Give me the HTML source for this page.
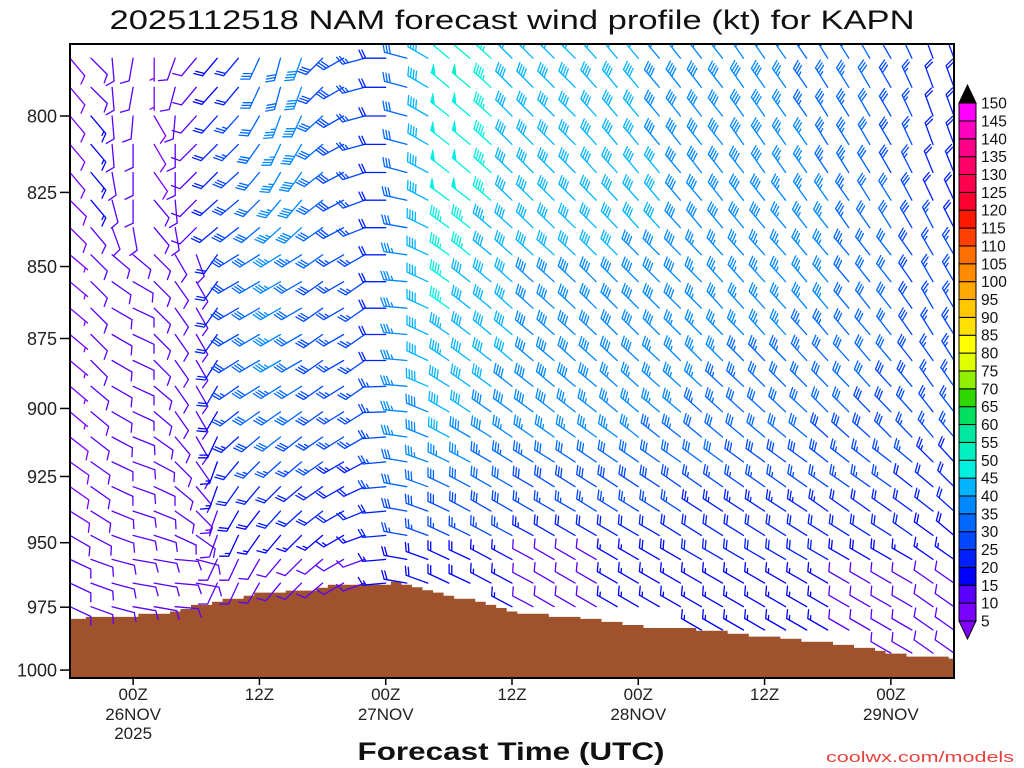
<!DOCTYPE html>
<html><head><meta charset="utf-8"><title>NAM wind profile KAPN</title>
<style>html,body{margin:0;padding:0;background:#fff;}svg{display:block;}</style></head>
<body>
<svg id="chart" xmlns="http://www.w3.org/2000/svg" width="1024" height="768" viewBox="0 0 1024 768" font-family="'Liberation Sans', 'DejaVu Sans', sans-serif">
<defs><clipPath id="plotclip"><rect x="70" y="44" width="884" height="634"/></clipPath></defs>
<rect x="0" y="0" width="1024" height="768" fill="#fff"/>
<text x="512" y="29" font-size="27" text-anchor="middle" textLength="805" lengthAdjust="spacingAndGlyphs" fill="#111">2025112518 NAM forecast wind profile (kt) for KAPN</text>
<g id="terrain" clip-path="url(#plotclip)"></g>
<g id="barbs" clip-path="url(#plotclip)"></g>
<rect x="70" y="44" width="884" height="634" fill="none" stroke="#000" stroke-width="2"/>
<g id="yaxis"></g><g id="xaxis"></g><g id="colorbar"></g>
<text x="511" y="760" font-size="25" font-weight="bold" text-anchor="middle" textLength="307" lengthAdjust="spacingAndGlyphs" fill="#111">Forecast Time (UTC)</text>
<text x="826" y="762" font-size="15" textLength="188" lengthAdjust="spacingAndGlyphs" fill="#e8413c">coolwx.com/models</text>
</svg>
<script>
// ---- data ----
const levels = [781.6,790.8,800,809.2,818.4,827.6,836.8,846,855.2,864.4,873.6,882.8,892,901.2,910.4,919.6,928.8,938,947.2,956.4,965.6,974.8,984,993.2];
const barbHours = [0,2,4,6,8,10,12,14,16,18,20,22,24,26,28,30,32,34,36,38,40,42,44,46,48,50,52,54,56,58,60,62,64,66,68,70,72,74,76,78,80,82,84];
const sfcPressure = [979.6,979.6,978.8,978.8,978.8,978.8,978.8,977.6,977.6,977.6,976.7,975.7,974.1,974.1,972.9,971.7,971.7,970.5,969.3,969.3,969.3,968.5,968.5,968.5,967.4,966.2,966.2,966.2,966.2,966.2,966.2,965.0,966.2,967.2,968.4,969.3,970.5,971.7,971.7,972.9,974.1,975.3,976.7,977.6,977.6,977.6,978.8,978.8,978.8,979.6,979.6,980.8,980.8,982.0,982.0,983.2,983.2,983.2,983.2,983.2,984.3,984.3,984.3,985.5,985.5,986.6,986.6,986.6,987.5,987.5,988.7,988.7,988.7,989.9,989.9,991.1,991.1,992.3,993.4,993.4,994.6,994.6,994.6,994.6,995.4];
const windDir = [
[140,135,175,190,180,200,220,220,220,205,195,200,225,240,255,270,285,300,310,310,312,315,315,315,315,318,320,320,320,322,322,322,325,325,325,325,328,328,330,330,335,340,340],
[140,135,175,190,180,195,220,222,220,205,195,200,225,240,255,270,285,300,310,310,312,315,315,315,315,318,320,320,320,322,322,322,325,325,325,325,328,328,330,330,335,340,340],
[140,140,175,185,150,185,222,222,222,210,200,205,228,240,255,270,285,300,308,310,312,315,315,315,315,318,320,320,320,322,322,322,325,325,325,325,328,328,330,330,335,340,340],
[140,140,175,180,150,180,225,225,225,215,205,210,230,242,255,270,285,300,308,310,312,315,315,315,315,318,320,320,320,322,322,322,325,325,325,325,328,328,330,330,335,340,340],
[140,140,170,180,145,180,225,225,228,220,210,215,232,242,252,270,285,298,308,310,312,314,315,315,315,318,318,320,320,320,322,322,322,325,325,325,326,328,328,330,333,338,338],
[135,140,165,180,140,175,225,228,230,225,220,220,232,242,250,270,282,298,306,308,310,314,314,315,315,316,318,318,320,320,320,322,322,322,322,325,325,325,328,328,332,335,335],
[135,140,160,170,140,170,225,230,232,230,228,228,235,242,248,270,280,296,306,308,310,312,314,314,314,315,316,318,318,318,320,320,320,320,320,322,322,325,325,328,330,333,333],
[130,135,130,130,135,150,160,215,238,238,238,238,235,240,240,270,278,295,305,308,310,312,312,312,313,315,315,315,315,316,316,318,318,318,318,320,320,320,322,322,325,330,330],
[130,135,125,120,135,145,150,215,240,240,240,240,235,240,235,270,275,295,305,308,310,312,312,312,313,315,315,315,315,315,315,318,318,318,318,320,320,320,322,322,325,330,330],
[130,135,120,115,135,145,150,215,240,240,240,240,235,240,235,270,275,295,305,308,310,312,312,312,313,315,315,315,315,315,315,318,318,318,318,320,320,320,322,322,325,330,330],
[130,135,120,115,135,145,150,215,240,240,240,240,235,240,235,270,275,295,305,308,310,310,310,312,312,313,315,315,315,315,315,316,316,318,318,318,320,320,320,322,325,328,328],
[130,135,120,115,135,145,150,212,238,240,240,240,235,240,235,270,275,295,304,306,308,310,310,310,312,312,313,313,313,315,315,315,315,316,316,318,318,318,320,320,322,325,328],
[130,130,120,115,130,145,150,210,235,238,238,238,235,238,235,268,275,293,302,305,306,308,308,310,310,310,312,312,312,312,313,313,313,315,315,315,316,316,318,318,320,325,325],
[130,130,120,115,130,145,150,210,232,235,235,235,235,238,238,268,275,292,300,303,305,306,306,308,308,308,310,310,310,310,312,312,312,312,313,313,315,315,316,316,318,322,322],
[128,128,118,112,125,140,150,205,228,230,232,232,235,238,240,266,278,292,298,300,302,304,304,305,305,306,306,308,308,308,310,310,310,310,310,310,312,312,312,315,316,320,320],
[125,125,115,110,118,135,145,200,220,225,228,230,235,240,242,265,280,290,296,298,300,302,302,302,303,304,304,305,305,305,306,306,306,306,306,306,308,308,308,308,310,315,318],
[125,125,115,110,115,130,140,200,215,220,225,230,235,240,245,265,280,290,295,298,300,300,300,302,302,302,303,303,303,305,305,305,305,305,305,305,305,305,305,305,308,310,315],
[122,122,112,108,112,125,135,200,210,218,222,228,232,240,248,265,280,290,295,298,300,300,300,300,300,302,302,302,302,303,303,303,303,303,303,303,305,305,305,305,306,308,312],
[120,118,110,105,108,115,125,200,205,215,220,225,230,240,250,265,280,290,295,296,298,298,298,300,300,300,300,300,300,302,302,302,302,302,302,302,302,302,302,302,305,306,310],
[115,110,105,100,100,95,105,205,205,210,220,225,230,240,250,265,280,290,295,295,298,298,298,300,300,300,300,300,300,300,300,300,300,300,300,300,300,300,300,300,300,305,305],
[115,110,105,100,100,95,100,205,205,210,220,225,230,240,250,265,280,290,295,295,298,298,298,300,300,300,300,300,300,300,300,300,300,300,300,300,300,300,300,300,300,305,305],
[115,110,105,100,100,95,100,205,205,210,220,225,230,240,250,265,280,290,295,295,298,298,298,300,300,300,300,300,300,300,300,300,300,300,300,300,300,300,300,300,300,305,305],
[115,110,105,100,100,95,100,205,205,210,220,225,230,240,250,265,280,290,295,295,298,298,298,300,300,300,300,300,300,300,300,300,300,300,300,300,300,300,300,300,300,305,305],
[115,110,105,100,100,95,100,205,205,210,220,225,230,240,250,265,280,290,295,295,298,298,298,300,300,300,300,300,300,300,300,300,300,300,300,300,300,300,300,300,300,305,305]
];
const windSpd = [
[8,10,10,10,5,10,10,18,22,30,32,38,28,28,25,20,30,42,48,52,45,42,40,42,40,40,40,40,38,38,38,38,38,38,36,33,33,33,30,28,25,20,20],
[8,12,10,10,5,10,10,18,22,30,32,38,28,28,25,20,30,40,48,50,45,42,40,42,40,40,40,40,38,38,38,38,38,38,36,33,33,33,30,28,25,20,20],
[8,15,10,10,8,12,12,20,25,30,35,38,30,28,25,22,30,40,48,48,45,42,40,42,40,40,40,40,38,38,38,38,38,38,36,33,33,33,30,28,25,20,20],
[8,15,10,10,8,12,12,20,25,32,35,38,30,28,25,22,30,40,48,48,45,42,42,42,40,40,40,40,38,38,38,38,38,38,36,35,33,33,30,28,25,22,20],
[8,15,10,10,8,12,12,20,28,32,35,38,32,28,25,22,32,40,48,48,45,42,42,42,40,40,40,40,40,38,38,38,38,38,36,35,33,33,30,28,25,22,22],
[8,15,10,12,10,12,12,20,28,32,35,38,32,28,25,22,32,40,48,48,45,42,42,42,42,40,40,40,40,38,38,38,38,38,36,35,35,33,30,30,28,22,22],
[8,12,12,12,10,12,12,20,28,32,36,38,32,28,25,22,32,40,46,46,44,42,42,42,42,40,40,40,40,38,38,38,38,38,36,35,35,33,32,30,28,25,22],
[6,10,12,12,10,10,10,20,28,32,35,34,30,26,25,22,35,40,46,45,42,40,40,40,40,40,40,38,38,38,36,36,36,36,36,35,35,33,32,30,28,25,25],
[6,10,12,12,10,10,10,20,28,32,35,32,28,25,25,22,35,40,45,42,40,40,38,38,38,38,38,38,38,38,35,35,35,35,35,35,35,32,30,30,28,25,25],
[6,10,12,12,10,10,10,20,28,32,35,32,28,25,25,22,35,40,45,42,40,40,38,38,38,38,38,38,38,38,35,35,35,35,35,35,35,32,30,30,28,25,25],
[6,10,12,12,10,10,10,20,28,32,35,32,28,25,25,22,35,40,44,42,40,40,38,38,38,38,38,38,38,36,35,35,35,35,35,33,33,32,30,30,28,25,25],
[6,10,12,12,10,10,10,20,28,32,35,32,28,25,25,22,35,40,44,42,40,40,38,38,38,38,38,38,36,36,35,35,33,33,33,33,32,32,30,30,28,25,25],
[6,10,12,12,10,10,10,20,26,30,33,32,28,25,25,25,35,40,42,40,40,38,38,38,38,38,36,36,36,35,35,33,33,32,32,32,30,30,30,28,28,25,25],
[6,10,12,12,10,10,10,18,25,30,32,30,28,25,25,25,35,38,42,40,38,38,38,38,36,36,36,35,35,35,33,33,32,32,30,30,30,30,28,28,28,25,25],
[8,10,12,12,10,10,10,18,24,28,30,28,26,25,25,25,35,38,40,38,38,36,36,36,35,35,35,35,33,33,32,32,30,30,30,30,28,28,28,28,26,25,25],
[8,10,10,10,10,10,10,15,22,25,26,25,25,24,24,25,32,35,35,35,34,33,33,32,32,32,32,30,30,30,30,30,28,28,28,28,28,26,26,26,25,24,22],
[8,10,10,10,10,10,10,15,20,20,22,22,22,22,22,25,30,30,30,30,30,30,28,28,28,28,28,28,28,28,25,25,25,25,25,25,25,25,25,25,22,22,20],
[8,10,10,10,10,10,10,14,18,18,20,20,20,20,20,22,28,28,28,28,28,28,26,26,26,26,26,26,26,26,24,24,24,24,24,24,24,22,22,22,22,20,20],
[10,10,10,10,10,10,10,12,15,15,16,16,16,16,16,20,25,25,25,25,25,25,24,22,22,22,22,22,22,22,22,22,22,22,22,22,22,20,20,20,20,18,18],
[10,10,10,10,10,10,10,10,12,12,12,12,12,12,12,15,18,18,18,18,15,15,12,12,12,12,15,15,18,18,20,20,20,20,20,20,20,18,18,18,15,15,15],
[10,10,10,10,10,10,10,10,12,12,12,12,12,12,12,15,18,18,18,18,15,15,12,12,12,12,15,15,15,15,15,15,15,15,15,15,15,12,12,10,10,10,10],
[10,10,10,10,10,10,10,10,12,12,12,12,12,12,12,15,18,18,18,18,15,15,12,12,12,12,15,15,15,15,15,15,15,15,15,15,15,12,12,10,10,10,10],
[10,10,10,10,10,10,10,10,12,12,12,12,12,12,12,15,18,18,18,18,15,15,12,12,12,12,15,15,15,15,15,15,15,15,15,15,15,12,12,10,10,10,10],
[10,10,10,10,10,10,10,10,12,12,12,12,12,12,12,15,18,18,18,18,15,15,12,12,12,12,15,15,15,15,15,15,15,15,15,15,15,12,12,10,10,10,10]
];
const yTicks = [800,825,850,875,900,925,950,975,1000];
const xTickHours = [6,18,30,42,54,66,78];
const xTickLabels = ["00Z","12Z","00Z","12Z","00Z","12Z","00Z"];
const xDateLabels = ["26NOV","","27NOV","","28NOV","","29NOV"];
const cbValues = [5,10,15,20,25,30,35,40,45,50,55,60,65,70,75,80,85,90,95,100,105,110,115,120,125,130,135,140,145,150];
const cbColors = ["#7a00ff","#5a00ff","#0000ff","#0020ff","#0048ff","#0068ff","#0088ff","#00b4ff","#00f0e0","#00f0c0","#00e8a0","#00e060","#30d800","#90f000","#e0ff00","#ffff00","#ffe000","#ffc800","#ffa800","#ff8c00","#ff7000","#ff4000","#ff1800","#ff0030","#ff0050","#ff0068","#ff0088","#ff00c0","#ff00ff"];

// ---- axes ----
const NS = "http://www.w3.org/2000/svg";
function xScale(h){ return 70 + h * (884/84); }
function yScale(p){ return 116 + Math.log(p/800) * 2483; }
function mk(tag, attrs, parent){ const e=document.createElementNS(NS,tag); for(const k in attrs) e.setAttribute(k, attrs[k]); parent.appendChild(e); return e; }
function spdColor(s){ if(s<5) return "#8000ff"; let i=Math.floor((s-5)/5); if(i>28) return "#000"; return cbColors[i]; }

// terrain
const tg = document.getElementById("terrain");
let d = "M" + xScale(-0.5) + " 680";
for(let h=0; h<sfcPressure.length; h++){
  const y = yScale(sfcPressure[h]).toFixed(1);
  d += " L" + xScale(h-0.5).toFixed(1) + " " + y + " L" + xScale(h+0.5).toFixed(1) + " " + y;
}
d += " L" + xScale(84.5).toFixed(1) + " 680 Z";
const terr = mk("path", {d:d, fill:"#a0522d"}, tg);



// barbs
const bg = document.getElementById("barbs");
const L = 23, BL = 9, SP = 3, deg = Math.PI/180;
for(let r=0; r<levels.length; r++){
  for(let c=0; c<barbHours.length; c++){
    const h = barbHours[c];
    const p = levels[r];
    if(p >= sfcPressure[h]) continue;
    const x = xScale(h), y = yScale(p);
    const dir = windDir[r][c], spd = windSpd[r][c];
    const ux = Math.sin(dir*deg), uy = -Math.cos(dir*deg);
    const ex = x + L*ux, ey = y + L*uy;
    const a = Math.atan2(uy, ux) + 65*deg;
    const bx = Math.cos(a), by = Math.sin(a);
    let path = "M"+x.toFixed(1)+" "+y.toFixed(1)+" L"+ex.toFixed(1)+" "+ey.toFixed(1);
    let s = Math.round(spd/5)*5, pos = 0, fillPath = "";
    while(s >= 50){
      const px = ex - pos*ux, py = ey - pos*uy;
      const qx = ex - (pos+5)*ux, qy = ey - (pos+5)*uy;
      fillPath += "M"+px.toFixed(1)+" "+py.toFixed(1)+" L"+(px+BL*bx).toFixed(1)+" "+(py+BL*by).toFixed(1)+" L"+qx.toFixed(1)+" "+qy.toFixed(1)+" Z ";
      pos += 6; s -= 50;
    }
    while(s >= 10){
      const px = ex - pos*ux, py = ey - pos*uy;
      path += " M"+px.toFixed(1)+" "+py.toFixed(1)+" L"+(px+BL*bx).toFixed(1)+" "+(py+BL*by).toFixed(1);
      pos += SP; s -= 10;
    }
    if(s >= 5){
      if(pos === 0) pos = SP;
      const px = ex - pos*ux, py = ey - pos*uy;
      path += " M"+px.toFixed(1)+" "+py.toFixed(1)+" L"+(px+BL*0.5*bx).toFixed(1)+" "+(py+BL*0.5*by).toFixed(1);
    }
    const col = spdColor(spd);
    const g = mk("g", {}, bg);
    
    
    mk("path", {d:path, stroke:col, "stroke-width":"1.3", fill:"none", "stroke-linecap":"round"}, g);
    if(fillPath) mk("path", {d:fillPath, fill:col, stroke:col, "stroke-width":"0.8"}, g);
  }
}

// y axis
const ya = document.getElementById("yaxis");
yTicks.forEach(v=>{
  const y = yScale(v);
  const t = mk("line", {x1:60, x2:70, y1:y, y2:y, stroke:"#000", "stroke-width":"1.5"}, ya);
  
  
  const lb = mk("text", {x:57, y:y+6.5, "font-size":"18", "text-anchor":"end", fill:"#222"}, ya);
  
  
  lb.textContent = v;
});

// x axis
const xa = document.getElementById("xaxis");
xTickHours.forEach((h,i)=>{
  const x = xScale(h);
  const t = mk("line", {x1:x, x2:x, y1:678, y2:685, stroke:"#000", "stroke-width":"1.5"}, xa);
  
  
  const lb = mk("text", {x:x, y:700, "font-size":"17", "text-anchor":"middle", fill:"#222"}, xa);
  
  
  lb.textContent = xTickLabels[i];
  if(xDateLabels[i]){
    const dl = mk("text", {x:x, y:720, "font-size":"17", "text-anchor":"middle", fill:"#222"}, xa);
    
    
    dl.textContent = xDateLabels[i];
  }
});
const yr = mk("text", {x:xScale(6), y:739, "font-size":"17", "text-anchor":"middle", fill:"#222"}, xa);


yr.textContent = "2025";

// colorbar
const cb = document.getElementById("colorbar");
const cbX = 959, cbW = 17, cbBottom = 621, cbStep = 17.86;
for(let i=0;i<cbColors.length;i++){
  const y1 = cbBottom - (i+1)*cbStep;
  const b = mk("rect", {x:cbX, y:y1, width:cbW, height:cbStep, fill:cbColors[i], stroke:"#000", "stroke-width":"1"}, cb);
  
  
}
const topY = cbBottom - cbColors.length*cbStep;
const tt = mk("polygon", {points:`${cbX},${topY} ${cbX+cbW},${topY} ${cbX+cbW/2},${topY-18}`, fill:"#000", stroke:"#000"}, cb);


const bt = mk("polygon", {points:`${cbX},${cbBottom} ${cbX+cbW},${cbBottom} ${cbX+cbW/2},${cbBottom+18}`, fill:"#8000ff", stroke:"#000"}, cb);


cbValues.forEach((v,i)=>{
  const lb = mk("text", {x:981, y:cbBottom - i*cbStep + 5.5, "font-size":"15.5", fill:"#111"}, cb);
  
  
  lb.textContent = v;
});
</script>
</body></html>
